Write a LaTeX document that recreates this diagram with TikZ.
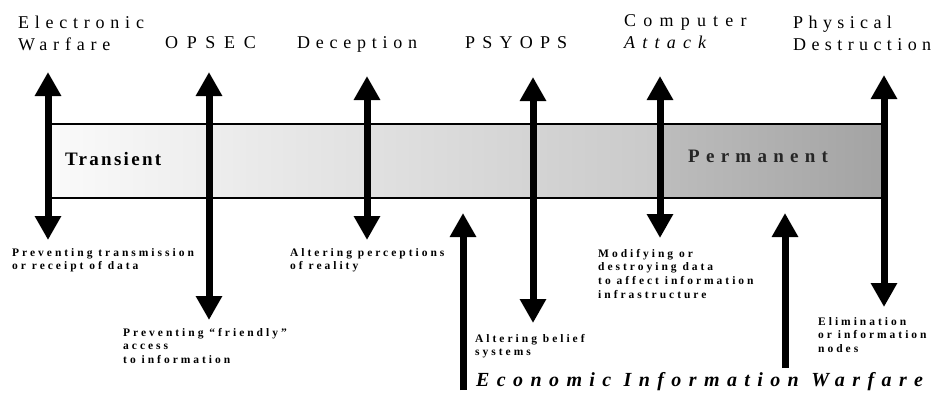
\documentclass[tikz,border=0pt]{standalone}
\usepackage{fontspec}
\setmainfont{Liberation Serif}
\usetikzlibrary{arrows.meta}

\tikzset{
  headtip/.tip={Triangle[width=25pt,length=24pt]},
  bigarrow/.style={line width=7pt},
  toplabel/.style={anchor=north west, inner sep=0pt, align=left,
    font=\fontsize{18}{22}\selectfont\addfontfeatures{LetterSpace=32}},
  effect/.style={anchor=north west, inner sep=0pt, align=left,
    font=\fontsize{11.5}{13.6}\selectfont\bfseries\addfontfeatures{LetterSpace=26}},
  bandword/.style={anchor=base west, inner sep=0pt,
    font=\fontsize{19}{22}\selectfont\bfseries}
}

\begin{document}
\begin{tikzpicture}[x=1pt, y=-1pt]
  \useasboundingbox (0,0) rectangle (939,392);

  % the band, light on the left and dark on the right
  \fill[left color=gray!4, right color=gray!42] (52,124) rectangle (660,198);
  \fill[left color=gray!52, right color=gray!72] (660,124) rectangle (882,198);
  \draw[line width=1.5pt] (52,124) -- (882,124) (52,198) -- (882,198);

  \node[bandword, font=\fontsize{19}{22}\selectfont\bfseries\addfontfeatures{LetterSpace=12}]
    (trans) at (65,165) {Transient};
  \node[bandword, text=black!85, font=\fontsize{19}{22}\selectfont\bfseries\addfontfeatures{LetterSpace=33}]
    (perm) at (688,162) {Permanent};

  % two-headed arrows of the six means
  \foreach \n/\x/\t/\b in {ew/48/72/240, op/209/72/320, de/367/76/240,
                           ps/533/77/323, ca/660/76/238, pd/884/75/307} {
    \coordinate (\n-t) at (\x,\t);
    \coordinate (\n-b) at (\x,\b);
    \draw[bigarrow, headtip-headtip] (\n-b) -- (\n-t);
  }

  % economic information warfare arrows
  \coordinate (eiw1-b) at (463,390);
  \coordinate (eiw1-t) at (463,213);
  \coordinate (eiw2-b) at (785,368);
  \coordinate (eiw2-t) at (785,213);
  \draw[bigarrow, -headtip] (eiw1-b) -- (eiw1-t);
  \draw[bigarrow, -headtip] (eiw2-b) -- (eiw2-t);

  \node[toplabel] (ew) at (18,16) {Electronic\\Warfare};
  \node[toplabel, font=\fontsize{18}{22}\selectfont\addfontfeatures{LetterSpace=48}] (opsec) at (165,36) {OPSEC};
  \node[toplabel] (dec) at (297,36) {Deception};
  \node[toplabel, font=\fontsize{18}{22}\selectfont\addfontfeatures{LetterSpace=40}] (psy) at (465,36) {PSYOPS};
  \node[toplabel, font=\fontsize{18}{22}\selectfont\addfontfeatures{LetterSpace=40}] (comp) at (624,14) {Computer\\\textit{Attack}};
  \node[toplabel, font=\fontsize{18}{22}\selectfont\addfontfeatures{LetterSpace=30}] (phys) at (793,16) {Physical\\Destruction};

  \node[effect] (prevt) at (12,248) {Preventing transmission\\or receipt of data};
  \node[effect] (prevf) at (123,328) {Preventing ``friendly''\\access\\to information};
  \node[effect] (altp) at (290,248) {Altering perceptions\\of reality};
  \node[effect] (altb) at (475,334) {Altering belief\\systems};
  \node[effect] (modd) at (598,249) {Modifying or\\destroying data\\to affect information\\infrastructure};
  \node[effect] (elim) at (818,317) {Elimination\\or information\\nodes};

  \node[anchor=base west, inner sep=0pt,
    font=\fontsize{20}{22}\selectfont\bfseries\itshape\addfontfeatures{LetterSpace=37}]
    (eiw) at (476,386) {Economic Information Warfare};
\end{tikzpicture}
\end{document}
